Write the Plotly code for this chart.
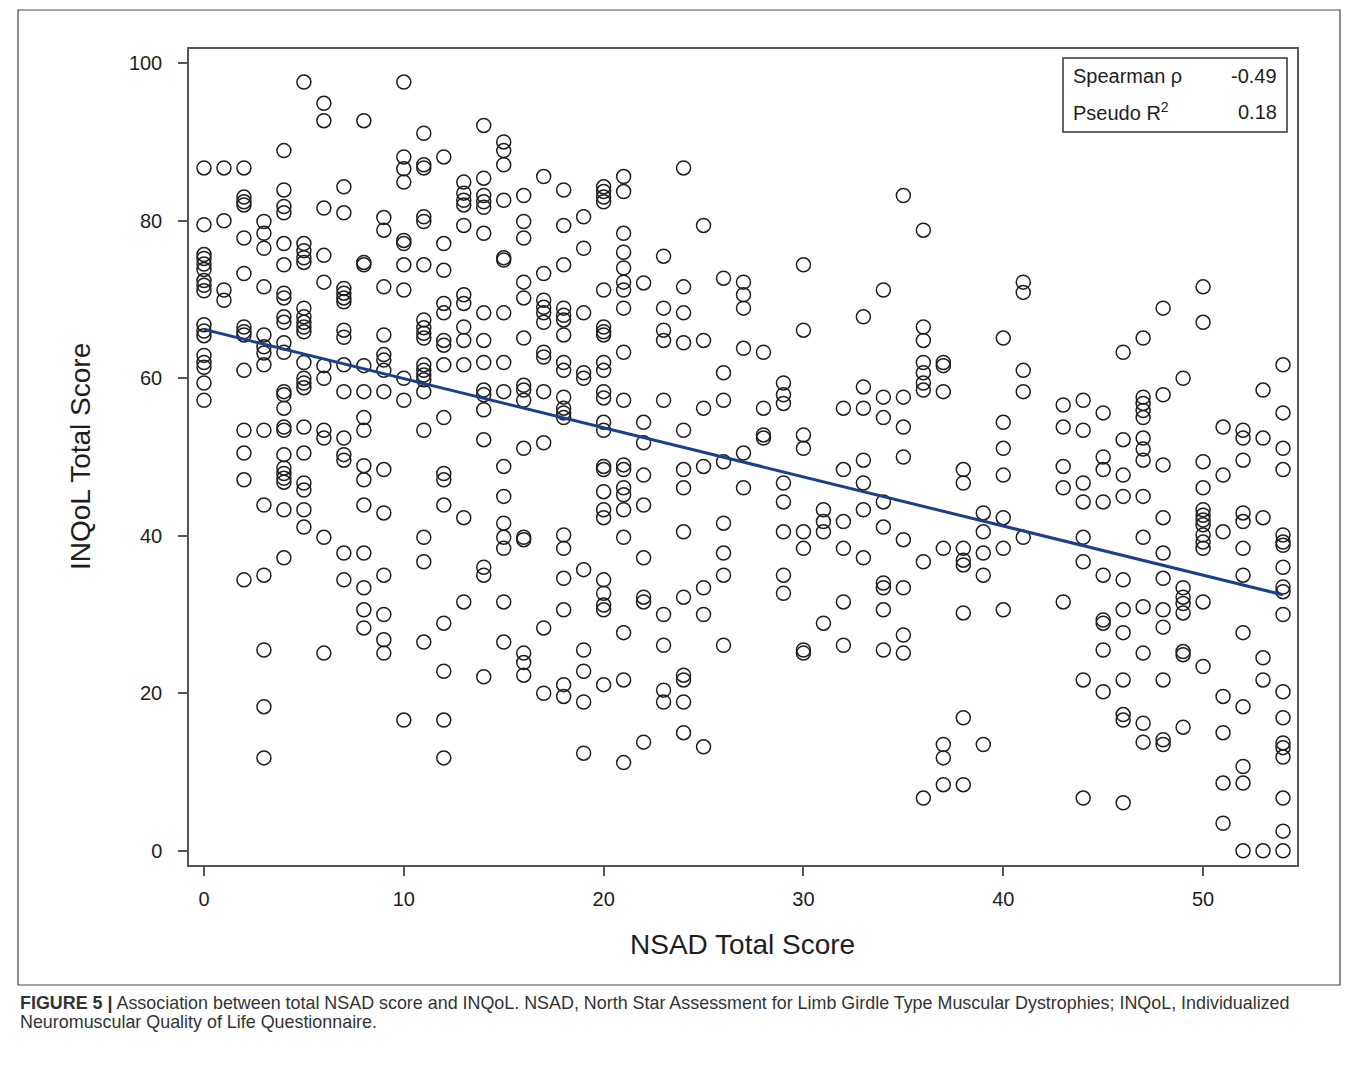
import plotly.graph_objects as go

# NSAD score -> INQoL values (one list per NSAD score)
inqol_by_nsad = {
    0: [86.7, 79.5, 75.7, 75.2, 74.5, 73.8, 72.4, 71.8, 71.1, 66.8, 66.0, 65.4, 62.9, 62.0, 61.4, 59.4, 57.2],
    1: [86.7, 80.0, 71.2, 69.9],
    2: [86.7, 83.0, 82.4, 82.0, 77.8, 73.3, 66.5, 65.9, 65.5, 61.0, 53.4, 50.5, 47.1, 34.4],
    3: [79.9, 78.4, 76.5, 71.6, 65.5, 64.0, 63.2, 61.7, 53.4, 43.9, 35.0, 25.5, 18.3, 11.8],
    4: [88.9, 83.9, 81.8, 81.0, 77.1, 74.4, 70.8, 70.2, 67.8, 67.1, 64.5, 63.3, 58.3, 57.9, 56.2, 53.8, 53.4,
        50.3, 48.6, 47.9, 47.3, 46.8, 43.3, 37.2],
    5: [97.6, 77.1, 76.2, 75.3, 74.7, 68.9, 67.8, 67.1, 66.5, 65.9, 62.0, 60.0, 59.4, 58.8, 53.8, 50.5, 46.7,
        45.8, 43.3, 41.1],
    6: [94.9, 92.7, 81.6, 75.6, 72.2, 61.6, 60.0, 53.4, 52.4, 39.8, 25.1],
    7: [84.3, 81.0, 71.4, 70.8, 70.2, 69.7, 66.1, 65.2, 61.7, 58.3, 52.4, 50.3, 49.6, 37.8, 34.4],
    8: [92.7, 74.7, 74.4, 61.6, 58.3, 55.0, 53.4, 48.9, 47.1, 43.9, 37.8, 33.4, 30.6, 28.3],
    9: [80.4, 78.8, 71.6, 65.5, 63.0, 62.3, 61.0, 58.3, 48.4, 42.9, 35.0, 30.0, 26.8, 25.1],
    10: [97.6, 88.1, 86.6, 84.9, 77.5, 77.1, 74.4, 71.2, 60.0, 57.2, 16.6],
    11: [91.1, 87.1, 86.7, 80.5, 79.9, 74.4, 67.4, 66.4, 65.7, 65.1, 61.7, 61.0, 60.4, 59.8, 58.3, 53.4, 39.8,
         36.7, 26.5],
    12: [88.1, 77.1, 73.7, 69.5, 68.3, 64.8, 64.2, 61.7, 55.0, 47.9, 47.1, 43.9, 28.9, 22.8, 16.6, 11.8],
    13: [84.9, 83.5, 82.6, 82.0, 79.4, 70.6, 69.5, 66.5, 64.8, 61.7, 42.3, 31.6],
    14: [92.1, 85.4, 83.2, 82.4, 81.7, 78.4, 68.3, 64.8, 62.0, 58.5, 57.9, 56.0, 52.2, 36.0, 35.0, 22.1],
    15: [90.0, 88.9, 87.1, 82.6, 75.3, 75.0, 68.3, 62.0, 58.3, 48.8, 45.0, 41.6, 39.8, 38.4, 31.6, 26.5],
    16: [83.2, 79.9, 77.8, 72.2, 70.2, 65.1, 59.1, 58.5, 57.2, 51.1, 39.8, 39.5, 25.1, 23.9, 22.3],
    17: [85.6, 73.3, 69.9, 69.0, 68.3, 67.1, 63.3, 62.7, 58.3, 51.8, 28.3, 20.0],
    18: [83.9, 79.4, 74.4, 68.9, 68.0, 67.4, 65.5, 62.0, 61.0, 57.6, 56.2, 55.6, 55.0, 40.1, 38.4, 34.6, 30.6,
         21.1, 19.6],
    19: [80.5, 76.5, 68.3, 60.7, 60.0, 35.7, 25.5, 22.8, 18.9, 12.4],
    20: [84.3, 83.7, 83.0, 82.4, 71.2, 66.5, 65.9, 65.5, 62.0, 61.0, 58.3, 57.5, 54.4, 53.4, 48.8, 48.4, 45.6,
         43.3, 42.3, 34.4, 32.7, 31.2, 30.6, 21.1],
    21: [85.6, 83.7, 78.4, 76.0, 74.0, 72.2, 71.2, 68.9, 63.3, 57.2, 49.0, 48.4, 46.1, 45.2, 43.3, 39.8, 27.7,
         21.7, 11.2],
    22: [72.1, 54.4, 51.8, 47.7, 43.9, 37.2, 32.2, 31.6, 13.8],
    23: [75.5, 68.9, 66.1, 64.8, 57.2, 30.0, 26.1, 20.4, 18.9],
    24: [86.7, 71.6, 68.3, 64.5, 53.4, 48.4, 46.1, 40.5, 32.2, 22.3, 21.7, 18.9, 15.0],
    25: [79.4, 64.8, 56.2, 48.8, 33.4, 30.0, 13.2],
    26: [72.7, 60.7, 57.2, 49.4, 41.6, 37.8, 35.0, 26.1],
    27: [72.2, 70.6, 68.9, 63.8, 50.5, 46.1],
    28: [63.3, 56.2, 52.8, 52.4],
    29: [59.4, 57.9, 56.8, 46.7, 44.3, 40.5, 35.0, 32.7],
    30: [74.4, 66.1, 52.8, 51.1, 40.5, 38.4, 25.5, 25.1],
    31: [43.3, 41.8, 40.5, 28.9],
    32: [56.2, 48.4, 41.8, 38.4, 31.6, 26.1],
    33: [67.8, 58.9, 56.2, 49.6, 46.7, 43.3, 37.2],
    34: [71.2, 57.6, 55.0, 44.3, 41.1, 34.0, 33.4, 30.6, 25.5],
    35: [83.2, 57.6, 53.8, 50.0, 39.5, 33.4, 27.4, 25.1],
    36: [78.8, 66.5, 64.8, 62.0, 60.7, 59.4, 58.5, 36.7, 6.7],
    37: [62.0, 61.6, 58.3, 38.4, 13.5, 11.8, 8.4],
    38: [48.4, 46.7, 38.4, 36.9, 36.3, 30.2, 16.9, 8.4],
    39: [42.9, 40.5, 37.8, 35.0, 13.5],
    40: [65.1, 54.4, 51.1, 47.7, 42.3, 38.4, 30.6],
    41: [72.2, 70.9, 61.0, 58.3, 39.8],
    43: [56.6, 53.8, 48.8, 46.1, 31.6],
    44: [57.2, 53.4, 46.7, 44.3, 39.8, 36.7, 21.7, 6.7],
    45: [55.6, 50.0, 48.4, 44.3, 35.0, 29.3, 28.9, 25.5, 20.2],
    46: [63.3, 52.2, 47.7, 45.0, 34.4, 30.6, 27.7, 21.7, 17.3, 16.6, 6.1],
    47: [65.1, 57.6, 56.8, 55.9, 55.0, 52.4, 51.0, 49.6, 45.0, 39.8, 31.0, 25.1, 16.2, 13.8],
    48: [68.9, 57.9, 49.0, 42.3, 37.8, 34.6, 30.6, 28.4, 21.7, 14.1, 13.5],
    49: [60.0, 33.4, 32.2, 31.4, 30.2, 25.3, 24.9, 15.7],
    50: [71.6, 67.1, 49.4, 46.1, 43.3, 42.6, 42.0, 41.4, 40.1, 39.2, 38.4, 31.6, 23.4],
    51: [53.8, 47.7, 40.5, 19.6, 15.0, 8.6, 3.5],
    52: [53.4, 52.4, 49.6, 42.9, 41.8, 38.4, 35.0, 27.7, 18.3, 10.7, 8.6, 0.0],
    53: [58.5, 52.4, 42.3, 24.5, 21.7, 0.0],
    54: [61.7, 55.6, 51.1, 48.4, 40.1, 39.2, 38.8, 36.0, 33.5, 32.9, 30.0, 20.2, 16.9, 13.7, 13.1, 11.9,
         6.7, 2.5, 0.0],
}

# fitted regression line, endpoints
fit_x = [0, 54]
fit_y = [66.2, 32.5]

x_ticks = [0, 10, 20, 30, 40, 50]
y_ticks = [0, 20, 40, 60, 80, 100]

stats_labels = ["Spearman ρ", "Pseudo R<sup>2</sup>"]
stats_values = ["-0.49", "0.18"]

caption_lines = [
    "<b>FIGURE 5 |</b> Association between total NSAD score and INQoL. NSAD, North Star Assessment for "
    "Limb Girdle Type Muscular Dystrophies; INQoL, Individualized",
    "Neuromuscular Quality of Life Questionnaire.",
]

nsad = []
inqol = []
for k, vals in inqol_by_nsad.items():
    for v in vals:
        nsad.append(k)
        inqol.append(v)

FONT = "Liberation Sans, Arial, sans-serif"
INK = "#1e1e1e"

fig = go.Figure()
fig.add_trace(go.Scatter(
    x=nsad, y=inqol, mode="markers",
    marker=dict(symbol="circle-open", size=14, color=INK, line=dict(width=1.5, color=INK)),
    showlegend=False, hoverinfo="x+y",
))
fig.add_trace(go.Scatter(
    x=fit_x, y=fit_y, mode="lines",
    line=dict(color="#1b3f8c", width=3),
    showlegend=False,
))

# paper-coordinate helpers (plot area spans px 189..1297 horizontally, 49..865 vertically)
L, R, T, B = 189, 1297, 49, 865
def px(xp):
    return (xp - L) / (R - L)
def py(yp):
    return (B - yp) / (B - T)

axis_common = dict(
    ticks="outside", ticklen=9, tickwidth=1.5, tickcolor="#555555",
    showline=True, linecolor="#555555", linewidth=1.5, mirror=True,
    showgrid=False, zeroline=False, tickfont=dict(size=20, color=INK, family=FONT),
)

fig.update_layout(
    width=1358, height=1072,
    margin=dict(l=L, r=1358 - R, t=T, b=1072 - B),
    paper_bgcolor="white", plot_bgcolor="white",
    font=dict(family=FONT, color=INK),
    xaxis=dict(range=[-0.75, 54.7], tickvals=x_ticks, ticklabelstandoff=6, **axis_common),
    yaxis=dict(range=[-1.8, 101.8], tickvals=y_ticks, ticklabelstandoff=12, **axis_common),
)

shapes = [
    # outer figure frame
    dict(type="rect", xref="paper", yref="paper", x0=px(18), x1=px(1340), y0=py(985), y1=py(10),
         line=dict(color="#444444", width=1.2), fillcolor="rgba(0,0,0,0)", layer="below"),
    # stats box
    dict(type="rect", xref="paper", yref="paper", x0=px(1063), x1=px(1287), y0=py(132), y1=py(58),
         line=dict(color="#333333", width=1.5), fillcolor="white"),
]
fig.update_layout(shapes=shapes)

ann = []
row_y = [76, 112]
for lab, val, ry in zip(stats_labels, stats_values, row_y):
    ann.append(dict(xref="paper", yref="paper", x=px(1071), y=py(ry), text=lab, showarrow=False,
                    xanchor="left", yanchor="middle", font=dict(size=20, family=FONT, color=INK)))
    ann.append(dict(xref="paper", yref="paper", x=px(1279), y=py(ry), text=val, showarrow=False,
                    xanchor="right", yanchor="middle", font=dict(size=20, family=FONT, color=INK)))

ann.append(dict(xref="paper", yref="paper", x=px(742), y=py(944), text="NSAD Total Score", showarrow=False,
                xanchor="center", yanchor="middle", font=dict(size=28, family=FONT, color=INK)))
ann.append(dict(xref="paper", yref="paper", x=px(80), y=py(457), text="INQoL Total Score", showarrow=False,
                textangle=-90, xanchor="center", yanchor="middle",
                font=dict(size=28, family=FONT, color=INK)))

for line, ly in zip(caption_lines, [1003, 1022]):
    ann.append(dict(xref="paper", yref="paper", x=px(18), y=py(ly), text=line, showarrow=False,
                    xanchor="left", yanchor="middle", align="left",
                    font=dict(size=17.9, family=FONT, color="#333333")))

fig.update_layout(annotations=ann)

fig.write_html("out.html")
